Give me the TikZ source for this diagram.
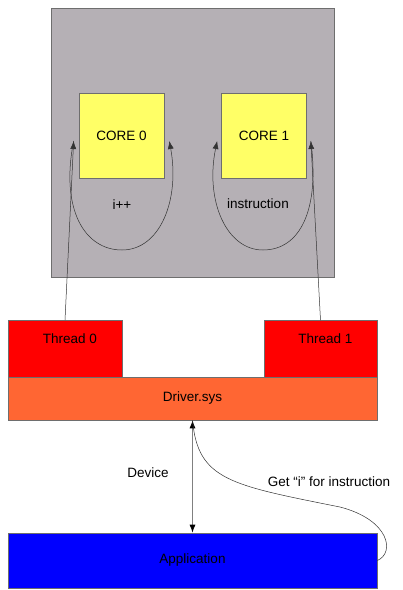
\documentclass[tikz,border=0pt]{standalone}
\usepackage{fontspec}
\setmainfont{Liberation Sans}
\usepackage{tikz}
\usetikzlibrary{arrows.meta,calc}
\definecolor{chipgray}{RGB}{181,176,181}
\definecolor{coreyellow}{RGB}{255,255,102}
\definecolor{driverorange}{RGB}{255,102,51}
\definecolor{edgegray}{RGB}{110,110,110}

\begin{document}
\begin{tikzpicture}[x=1pt, y=-1pt, font=\fontsize{13.5}{16}\selectfont,
  box/.style={draw=edgegray, line width=0.7pt, inner sep=0pt},
  wire/.style={draw=black!80, line width=0.5pt},
  tip/.style={-{Latex[length=8pt,width=6pt]}}]
\useasboundingbox (0,0) rectangle (403,590);
\node[box, fill=chipgray, minimum width=283pt, minimum height=269pt] (chip) at (192.5,142.5) {};
\node[box, fill=coreyellow, minimum width=85pt, minimum height=85pt] (core0) at (121.5,135.5) {CORE 0};
\node[box, fill=coreyellow, minimum width=85pt, minimum height=85pt] (core1) at (264,135.5) {CORE 1};
\node (inc) at (122,205) {i++};
\node (instr) at (258,204) {instruction};
\node[box, fill=red, minimum width=114pt, minimum height=57pt,
  label={[anchor=center,xshift=5pt,yshift=-19pt]north:Thread 0}] (thread0) at (65,349) {};
\node[box, fill=red, minimum width=113pt, minimum height=57pt,
  label={[anchor=center,xshift=5pt,yshift=-19pt]north:Thread 1}] (thread1) at (320.5,349) {};
\node[box, fill=driverorange, minimum width=369pt, minimum height=43pt] (driver) at (192.5,398.5) {Driver.sys};
\node[box, fill=blue, minimum width=369pt, minimum height=55pt] (app) at (192.5,560.5) {Application};
\node (dev) at (148,473) {Device};
\node (geti) at (329,482) {Get “i” for instruction};
\coordinate (c0l) at ($(core0.west)+(-5,5.5)$);
\coordinate (c0r) at ($(core0.east)+(5,5.5)$);
\coordinate (c1l) at ($(core1.west)+(-4,5.5)$);
\coordinate (c1r) at ($(core1.east)+(4,5.5)$);
\draw[wire, tip] (thread0.north) -- (c0l);
\draw[wire, tip] (thread1.north) -- (c1r);
\draw[wire, tip] (c0l) .. controls (60,210) and (85,250) .. (122,250) .. controls (160,250) and (180,200) .. (c0r);
\draw[wire, tip] (c1r) .. controls (320,210) and (300,250) .. (263,250) .. controls (226,250) and (205,200) .. (c1l);
\draw[gray, line width=0.8pt, {Latex[color=black,length=8pt,width=6pt]}-{Latex[color=black,length=8pt,width=6pt]}] (driver.south) -- (app.north);
\draw[wire] (app.east) .. controls (395,553) and (390,520) .. (340,507) .. controls (230,485) and (198,480) .. (driver.south);
\end{tikzpicture}
\end{document}
